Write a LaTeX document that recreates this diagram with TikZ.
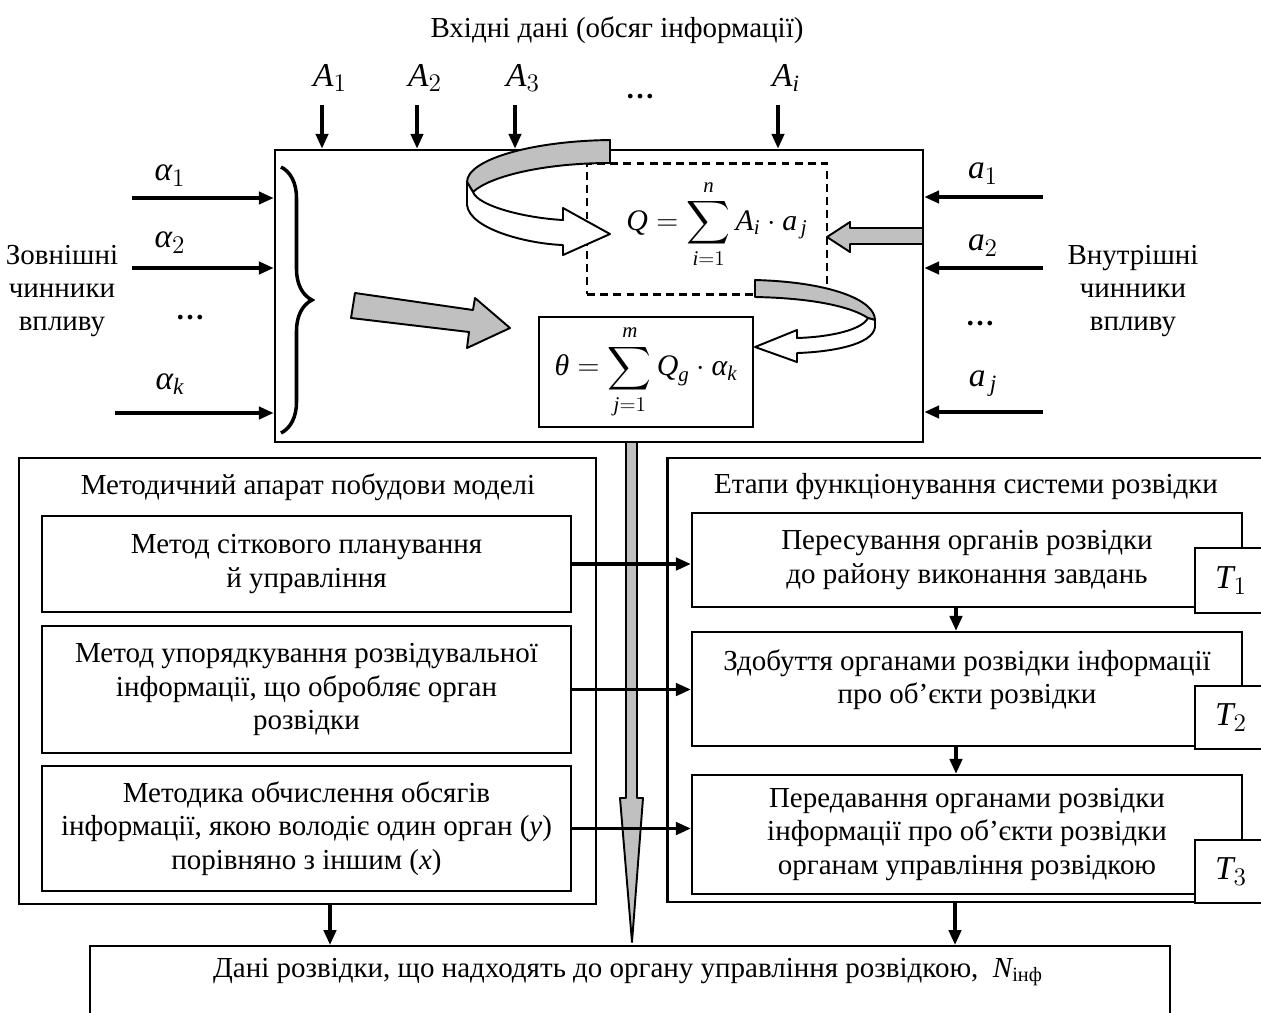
\documentclass[tikz,border=0pt]{standalone}
\usepackage{amsmath}
\usepackage{fontspec}
\setmainfont{Liberation Serif}
\usetikzlibrary{arrows.meta,positioning,decorations.pathreplacing}
\definecolor{stripe}{RGB}{192,192,192}
\newcommand{\ilet}[1]{\textit{#1}}
\begin{document}
\begin{tikzpicture}[x=0.02cm, y=-0.02cm, font=\fontsize{16.5}{19}\selectfont,
  box/.style={draw, line width=1.3pt, align=center, inner sep=0pt},
  arr/.style={line width=2pt, -{Triangle[length=8.5pt,width=7pt]}},
  ribbon/.style={line width=1.1pt, line join=round},
  formula/.style={font=\fontsize{17}{20}\selectfont}]
\useasboundingbox (0,0) rectangle (1261,1012);

\node at (617,30) (vhid) {Вхідні дані (обсяг інформації)};

\node[box, line width=1.5pt, minimum width=12.96cm, minimum height=5.84cm] at (599,296) (main) {};
\node[box, dashed, dash pattern=on 4.5pt off 3pt, minimum width=4.8cm, minimum height=2.62cm] at (707,229) (qbox) {};
\node[formula] at (717,224) (qform) {$\displaystyle \ilet{Q}=\sum_{\ilet{i}=1}^{\ilet{n}}\ilet{A}_{\ilet{i}}\cdot \ilet{a}_{\,\ilet{j}}$};
\node[box, minimum width=4.28cm, minimum height=2.2cm, formula] at (646,372) (thbox) {$\displaystyle \ilet{θ}=\sum_{\ilet{j}=1}^{\ilet{m}}\ilet{Q}_{\ilet{g}}\cdot\ilet{α}_{\ilet{k}}$};

\node[box, minimum width=11.54cm, minimum height=8.92cm] at (307.5,681) (meth) {};
\node at (308,487) (methtit) {Методичний апарат побудови моделі};
\node[box, minimum width=10.58cm, minimum height=1.92cm] at (306.5,564) (m1) {Метод сіткового планування\\й управління};
\node[box, minimum width=10.58cm, minimum height=2.54cm] at (306.5,689.5) (m2) {Метод упорядкування розвідувальної\\інформації, що обробляє орган\\розвідки};
\node[box, minimum width=10.58cm, minimum height=2.5cm] at (306.5,828.5) (m3) {Методика обчислення обсягів\\інформації, якою володіє один орган (\ilet{y})\\порівняно з іншим (\ilet{x})};

\node[box, minimum width=12.1cm, minimum height=8.88cm] at (970,680) (stage) {};
\node at (966,487) (stagetit) {Етапи функціонування системи розвідки};
\node[box, minimum width=11cm, minimum height=1.88cm] at (967,560) (s1) {Пересування органів розвідки\\до району виконання завдань};
\node[box, minimum width=11cm, minimum height=2.28cm, text depth=0.5cm] at (967,689) (s2) {Здобуття органами розвідки інформації\\про об’єкти розвідки};
\node[box, minimum width=11cm, minimum height=2.38cm] at (967,834.5) (s3) {Передавання органами розвідки\\інформації про об’єкти розвідки\\органам управління розвідкою};
\node[box, fill=white, minimum width=1.44cm, minimum height=1.3cm, font=\fontsize{19}{21}\selectfont] at (1231,580.5) (t1) {$\ilet{T}_1$};
\node[box, fill=white, minimum width=1.44cm, minimum height=1.26cm, font=\fontsize{19}{21}\selectfont] at (1231,717.5) (t2) {$\ilet{T}_2$};
\node[box, fill=white, minimum width=1.44cm, minimum height=1.26cm, font=\fontsize{19}{21}\selectfont] at (1231,871.5) (t3) {$\ilet{T}_3$};

\node[box, minimum width=21.6cm, minimum height=1.9cm, anchor=north] at (630,945) (dani) {};
\node at (628,972) (danitxt) {Дані розвідки, що надходять до органу управління розвідкою,\ \ $\ilet{N}_{\text{інф}}$};

\foreach \x/\t in {322/1, 417/2, 515/3, 778/\ilet{i}} {
  \node[font=\fontsize{19}{21}\selectfont] at (\x+8,78) {$\ilet{A}_{\t}$};
  \coordinate (sA) at (\x,105);
  \draw[arr] (sA) -- (sA |- main.north);
}
\node at (640,97) (dtop) {\textbf{…}};

\foreach \y/\x/\ly/\t in {198/132/176/1, 268/132/243/2, 413/115/384/\ilet{k}} {
  \node[font=\fontsize{19}{21}\selectfont] at (170,\ly) {$\ilet{α}_{\t}$};
  \coordinate (sal) at (\x,\y);
  \draw[arr] (sal) -- (sal -| main.west);
}
\node at (190,318) (dleft) {\textbf{…}};
\node[align=center] at (62,291) (zovn) {Зовнішні\\чинники\\впливу};

\foreach \y/\ly/\t in {197/174/1, 268/246/2, 412/384/\,\ilet{j}} {
  \node[font=\fontsize{19}{21}\selectfont] at (983,\ly) {$\ilet{a}_{\t}$};
  \coordinate (sa) at (1043,\y);
  \draw[arr] (sa) -- (sa -| main.east);
}
\node at (980,324) (dright) {\textbf{…}};
\node[align=center] at (1133,291) (vnutr) {Внутрішні\\чинники\\впливу};

\draw[line width=2pt, decorate, decoration={brace, amplitude=0.62cm}] (281,167) -- (281,433);

\filldraw[ribbon, fill=stripe] (610,140) .. controls (530,141) and (467,160) .. (467,182) -- (473,192) .. controls (490,176) and (545,163) .. (610,163) -- cycle;
\filldraw[ribbon, fill=white] (467,182) -- (467,205) .. controls (470,230) and (530,244) .. (563,245) -- (563,255) -- (610,234) -- (563,208) -- (563,220) .. controls (525,218) and (478,206) .. (473,192) -- cycle;

\filldraw[ribbon, fill=stripe] (755,280) .. controls (830,282) and (875,300) .. (875,320) -- (868,318) .. controls (850,306) and (810,298) .. (755,297) -- cycle;
\filldraw[ribbon, fill=white] (875,320) -- (875,327) .. controls (873,345) and (830,352) .. (797,353) -- (797,362) -- (755,347) -- (797,330) -- (797,338) .. controls (830,337) and (862,330) .. (868,318) -- cycle;

\filldraw[ribbon, fill=stripe] (355,293) -- (473,310) -- (475,298) -- (510,328) -- (467,348) -- (469,332) -- (351,318) -- cycle;
\filldraw[ribbon, fill=stripe] (923,228) -- (850,228) -- (850,222) -- (827,237) -- (850,252) -- (850,244) -- (923,244) -- cycle;
\filldraw[ribbon, fill=stripe] (626,442) -- (626,798) -- (620,798) -- (632,942) -- (643,798) -- (637,798) -- (637,442) -- cycle;

\foreach \i in {1,2,3}
  \draw[arr] (m\i.east) -- (m\i.east -| s\i.west);
\draw[arr] ([xshift=-0.22cm]s1.south) -- ([xshift=-0.22cm]s2.north);
\draw[arr] ([xshift=-0.22cm]s2.south) -- ([xshift=-0.22cm]s3.north);
\draw[arr] ([xshift=0.45cm]meth.south) -- ([xshift=0.45cm]meth.south |- dani.north);
\draw[arr] ([xshift=-0.3cm]stage.south) -- ([xshift=-0.3cm]stage.south |- dani.north);
\end{tikzpicture}
\end{document}
